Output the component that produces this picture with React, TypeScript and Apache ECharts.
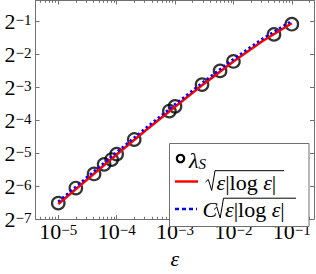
import React, { useEffect, useRef } from 'react';
import * as echarts from 'echarts';

// Data (epsilon, lambda_S)
const epsValues = [1e-5, 2e-5, 4.1e-5, 6.1e-5, 8.2e-5, 1e-4, 2e-4, 8e-4, 1e-3, 2.9e-3, 5.9e-3, 1e-2, 4.95e-2, 1e-1];
const lambdaValues = [0.01094, 0.0150, 0.02019, 0.0247, 0.02731, 0.03062, 0.04163, 0.07573, 0.08362, 0.1321, 0.1763, 0.2151, 0.3796, 0.4705];

// Curves
const curveEps = [1e-5, 3.162e-5, 1e-4, 3.162e-4, 1e-3, 3.162e-3, 1e-2, 3.162e-2, 1e-1];
const curveRed = [0.01073, 0.0181, 0.03035, 0.05048, 0.08311, 0.13492, 0.2146, 0.33049, 0.47985];
const curveBlue = [0.01127, 0.01901, 0.03187, 0.05301, 0.08727, 0.14167, 0.22533, 0.34701, 0.50384];

// Tick exponents
const xTickExps = [-5, -4, -3, -2, -1];
const yTickExps = [-7, -6, -5, -4, -3, -2, -1];

const FONT = 'Liberation Serif';
const LINE = '#707070';
const BASE = 22;
const SUP = 15;

const xMin = -5.39;
const xMax = -0.62;
const yMin = -7;
const yMax = -0.369;

const xMinor: number[] = [];
for (let n = -6; n <= -1; n++) {
  for (let k = 2; k <= 9; k++) {
    const v = n + Math.log10(k);
    if (v > xMin && v < xMax) xMinor.push(v);
  }
}

const supRich = {
  b: { fontFamily: FONT, fontSize: BASE, lineHeight: 18, color: '#000' },
  s: { fontFamily: FONT, fontSize: SUP, lineHeight: 7, color: '#000', verticalAlign: 'top' },
};

function xAxisDef(position: 'top' | 'bottom', major: boolean, labels: boolean): any {
  return {
    type: 'value',
    min: xMin,
    max: xMax,
    position,
    axisLine: { show: major, onZero: false, lineStyle: { color: LINE, width: 1 } },
    axisTick: {
      show: true,
      inside: true,
      length: major ? 4 : 2.3,
      customValues: major ? xTickExps : xMinor,
      lineStyle: { color: LINE, width: 1 },
    },
    axisLabel: labels
      ? {
          show: true,
          customValues: xTickExps,
          margin: 3,
          hideOverlap: false,
          fontFamily: FONT,
          fontSize: BASE,
          color: '#000',
          formatter: (v: number) => `{b|10}{s|−${Math.round(-v)}}`,
          rich: supRich,
        }
      : { show: false },
    splitLine: { show: false },
    ...(labels
      ? {
          name: 'ε',
          nameLocation: 'middle',
          nameGap: 24,
          nameTextStyle: { fontFamily: FONT, fontStyle: 'italic', fontSize: BASE, color: '#000', lineHeight: 18 },
        }
      : {}),
  };
}

function yAxisDef(position: 'left' | 'right', labels: boolean): any {
  return {
    type: 'value',
    min: yMin,
    max: yMax,
    position,
    axisLine: { show: true, onZero: false, lineStyle: { color: LINE, width: 1 } },
    axisTick: {
      show: true,
      inside: true,
      length: 4,
      customValues: yTickExps,
      lineStyle: { color: LINE, width: 1 },
    },
    axisLabel: labels
      ? {
          show: true,
          customValues: yTickExps,
          margin: 4,
          hideOverlap: false,
          fontFamily: FONT,
          fontSize: BASE,
          color: '#000',
          formatter: (v: number) => `{b|2}{s|−${Math.round(-v)}}`,
          rich: supRich,
        }
      : { show: false },
    splitLine: { show: false },
  };
}

export default function App() {
  const ref = useRef<HTMLDivElement>(null);
  useEffect(() => {
    if (!ref.current) return;
    const chart = echarts.init(ref.current, null, { renderer: 'svg' });
    const scatterData = epsValues.map((e, i) => [Math.log10(e), Math.log2(lambdaValues[i])]);
    const redData = curveEps.map((e, i) => [Math.log10(e), Math.log2(curveRed[i])]);
    const blueData = curveEps.map((e, i) => [Math.log10(e), Math.log2(curveBlue[i])]);

    const italic = { fontFamily: FONT, fontStyle: 'italic', fontSize: BASE, color: '#000', lineHeight: 18 };
    const upright = { fontFamily: FONT, fontSize: BASE, color: '#000', lineHeight: 18 };
    const sqrtText = '{i|ε}{r||log }{i|ε}{r||}';

    chart.setOption({
      animation: false,
      backgroundColor: '#fff',
      grid: { left: 35.5, right: 2, top: 0.5, bottom: 44.5, containLabel: false },
      xAxis: [
        xAxisDef('bottom', true, true),
        xAxisDef('bottom', false, false),
        xAxisDef('top', true, false),
        xAxisDef('top', false, false),
      ],
      yAxis: [yAxisDef('left', true), yAxisDef('right', false)],
      series: [
        {
          type: 'scatter',
          data: scatterData,
          symbol: 'circle',
          symbolSize: 12.5,
          itemStyle: { color: 'rgba(0,0,0,0)', borderColor: '#000', borderWidth: 2.2 },
          z: 2,
        },
        {
          type: 'line',
          data: redData,
          symbol: 'none',
          lineStyle: { color: '#ff0000', width: 2.6 },
          z: 3,
        },
        {
          type: 'line',
          data: blueData,
          symbol: 'none',
          lineStyle: { color: '#0000ff', width: 2.6, type: [2.4, 2.8], cap: 'butt' },
          z: 4,
        },
      ],
      graphic: [
        {
          type: 'rect',
          z: 100,
          shape: { x: 169.5, y: 143.5, width: 139.5, height: 83 },
          style: { fill: '#fff', stroke: LINE, lineWidth: 1 },
        },
        {
          type: 'circle',
          z: 101,
          shape: { cx: 180.5, cy: 158.5, r: 3.7 },
          style: { fill: 'none', stroke: '#000', lineWidth: 2.2 },
        },
        {
          type: 'text',
          z: 101,
          x: 189,
          y: 160,
          style: {
            text: '{l|λ}{s|S}',
            verticalAlign: 'middle',
            rich: {
              l: { fontFamily: FONT, fontStyle: 'italic', fontSize: BASE, color: '#000', lineHeight: 22, verticalAlign: 'top' },
              s: { fontFamily: FONT, fontStyle: 'italic', fontSize: SUP, color: '#000', lineHeight: 11, verticalAlign: 'bottom' },
            },
          },
        },
        {
          type: 'line',
          z: 101,
          shape: { x1: 175, y1: 181.5, x2: 198, y2: 181.5 },
          style: { stroke: '#ff0000', lineWidth: 2.5 },
        },
        {
          type: 'polyline',
          z: 101,
          shape: { points: [[205.5, 182], [208.3, 179.5], [211.7, 190.5], [215, 170.7], [284, 170.7]] },
          style: { stroke: '#000', lineWidth: 1, fill: null },
        },
        {
          type: 'text',
          z: 101,
          x: 216.5,
          y: 182,
          style: { text: sqrtText, verticalAlign: 'middle', rich: { i: italic, r: upright } },
        },
        {
          type: 'line',
          z: 101,
          shape: { x1: 175, y1: 209, x2: 197, y2: 209 },
          style: { stroke: '#0000ff', lineWidth: 2.6, lineDash: [4, 3] },
        },
        {
          type: 'text',
          z: 101,
          x: 202.5,
          y: 209.5,
          style: { text: '{i|C}', verticalAlign: 'middle', rich: { i: italic } },
        },
        {
          type: 'polyline',
          z: 101,
          shape: { points: [[214, 209.5], [216.8, 207], [220.2, 218], [223.5, 198.2], [296, 198.2]] },
          style: { stroke: '#000', lineWidth: 1, fill: null },
        },
        {
          type: 'text',
          z: 101,
          x: 225,
          y: 209.5,
          style: { text: sqrtText, verticalAlign: 'middle', rich: { i: italic, r: upright } },
        },
      ],
    });
    return () => chart.dispose();
  }, []);
  return <div ref={ref} style={{ position: 'fixed', left: 0, top: 0, width: 316, height: 274 }} />;
}
